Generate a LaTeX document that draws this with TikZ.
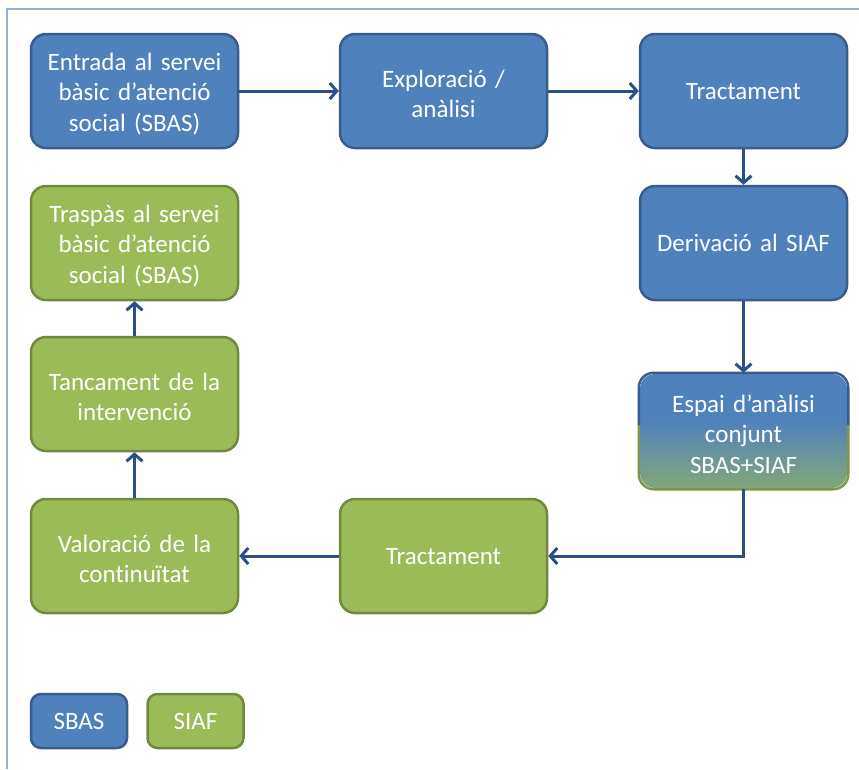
\documentclass[tikz,border=0pt]{standalone}
\usepackage{fontspec}
\setmainfont[Ligatures={NoCommon}]{Carlito}
\usetikzlibrary{arrows.meta}
\definecolor{sbasfill}{HTML}{4F81BD}
\definecolor{sbasline}{HTML}{385D8A}
\definecolor{siaffill}{HTML}{9BBB59}
\definecolor{siafline}{HTML}{71893F}
\definecolor{arrowcol}{HTML}{28518C}
\definecolor{framecol}{HTML}{95B3D7}
\pgfdeclareverticalshading{espaishade}{100bp}{color(0bp)=(siaffill); color(10bp)=(siaffill); color(55bp)=(sbasfill); color(100bp)=(sbasfill)}
\newcommand{\boxtail}{\endgraf\vspace{-6pt}}
\begin{document}
\begin{tikzpicture}[x=1pt,y=-1pt,
  box/.style={rounded corners=15pt, line width=2.5pt, minimum width=207pt, minimum height=114pt,
    text width=195pt, align=center, text=white, font=\fontsize{25}{30.5}\selectfont,
    execute at end node=\boxtail},
  sbas/.style={box, fill=sbasfill, draw=sbasline},
  siaf/.style={box, fill=siaffill, draw=siafline},
  legbox/.style={rounded corners=10pt, line width=2.5pt, minimum width=96pt, minimum height=54pt,
    text=white, font=\fontsize{25}{30}\selectfont},
  flow/.style={draw=arrowcol, line width=3pt, -{Straight Barb[length=7pt,width=16pt,line width=3pt]}}
]
\useasboundingbox (0,0) rectangle (859,769);
\fill[white] (0,0) rectangle (859,769);
\draw[framecol, line width=1.5pt] (7,769) -- (7,9) -- (859,9);

\node[sbas] (entrada) at (134.5,91) {Entrada al servei\\bàsic d’atenció\\social (SBAS)};
\node[sbas] (explor) at (443.5,91) {Exploració /\\anàlisi};
\node[sbas] (tract1) at (743.5,91) {Tractament};
\node[sbas] (deriv) at (743.5,243) {Derivació al SIAF};
\node[box, shading=espaishade, draw=none] (espai) at (743.5,431) {Espai d’anàlisi\\conjunt\\SBAS+SIAF};
\begin{scope}
  \clip (600,360) rectangle (859,425);
  \draw[sbasline, line width=2.5pt, rounded corners=15pt] (espai.north west) rectangle (espai.south east);
\end{scope}
\begin{scope}
  \clip (600,425) rectangle (859,500);
  \draw[siafline!70!siaffill, line width=2.5pt, rounded corners=15pt] (espai.north west) rectangle (espai.south east);
\end{scope}
\node[siaf] (tract2) at (443.5,556) {Tractament};
\node[siaf] (valor) at (134.5,556) {Valoració de la\\continuïtat};
\node[siaf] (tanc) at (134.5,394) {Tancament de la\\intervenció};
\node[siaf] (trasp) at (134.5,243) {Traspàs al servei\\bàsic d’atenció\\social (SBAS)};

\node[legbox, fill=sbasfill, draw=sbasline] (legsbas) at (79,721) {SBAS};
\node[legbox, fill=siaffill, draw=siafline] (legsiaf) at (195.5,721) {SIAF};

\draw[flow] (entrada) -- (explor);
\draw[flow] (explor) -- (tract1);
\draw[flow] (tract1) -- (deriv);
\draw[flow] (deriv) -- (espai);
\draw[flow] (espai.south) |- (tract2.east);
\draw[flow] (tract2) -- (valor);
\draw[flow] (valor) -- (tanc);
\draw[flow] (tanc) -- (trasp);
\end{tikzpicture}
\end{document}
